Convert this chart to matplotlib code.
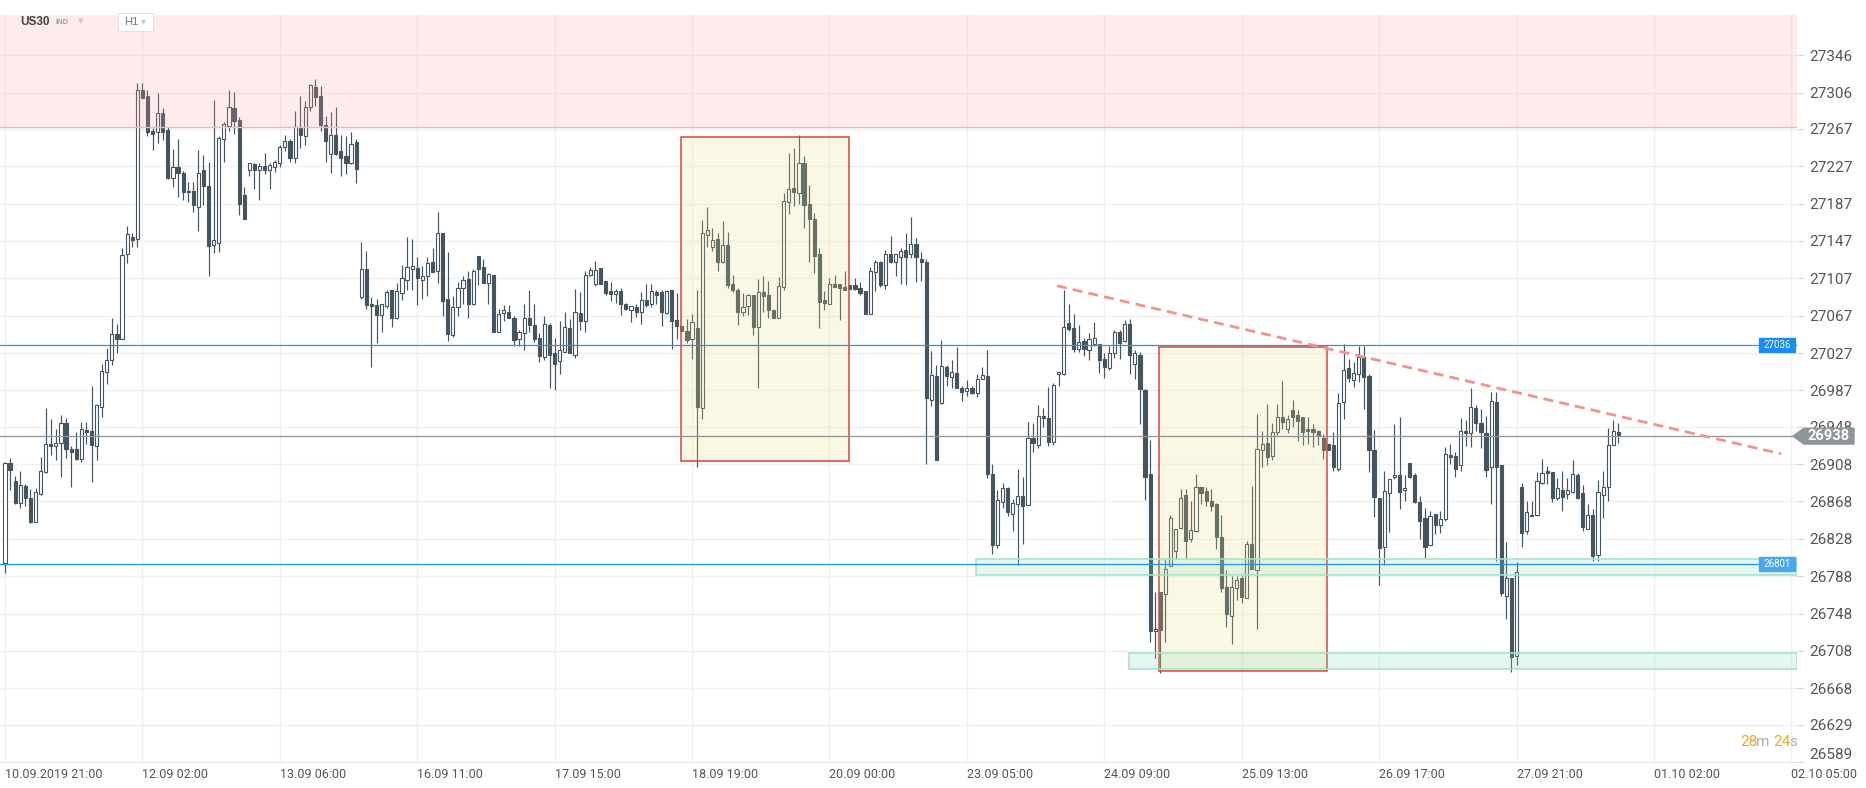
import matplotlib
matplotlib.use("Agg")
import matplotlib.pyplot as plt
from matplotlib import font_manager
from matplotlib.patches import Rectangle, Polygon
from matplotlib.transforms import blended_transform_factory
import numpy as np

plt.rcParams['font.family'] = ['Roboto', 'DejaVu Sans']

# US30 hourly candles, from 10.09.2019 21:00
opens = [26802, 26909, 26890, 26866, 26885, 26872, 26846, 26876, 26900, 26930,
         26927, 26931, 26952, 26924, 26924, 26914, 26945, 26943, 26927, 26969,
         27007, 27019, 27047, 27042, 27133, 27151, 27149, 27309, 27302, 27265,
         27264, 27284, 27266, 27214, 27226, 27220, 27199, 27201, 27183, 27223,
         27206, 27143, 27145, 27256, 27270, 27289, 27277, 27196, 27223, 27229,
         27223, 27227, 27223, 27226, 27231, 27248, 27254, 27236, 27269, 27259,
         27290, 27312, 27302, 27271, 27240, 27261, 27243, 27238, 27230, 27253,
         27087, 27117, 27079, 27078, 27068, 27077, 27094, 27064, 27091, 27105,
         27117, 27118, 27105, 27109, 27124, 27115, 27155, 27085, 27046, 27076,
         27097, 27106, 27080, 27131, 27119, 27102, 27111, 27050, 27070, 27071,
         27065, 27042, 27048, 27064, 27057, 27043, 27023, 27057, 27027, 27018,
         27028, 27054, 27025, 27070, 27061, 27111, 27101, 27118, 27104, 27093,
         27090, 27093, 27079, 27073, 27076, 27071, 27084, 27079, 27092, 27092,
         27070, 27094, 27062, 27056, 27051, 27042, 27054, 26968, 27153, 27141,
         27149, 27125, 27143, 27101, 27095, 27071, 27077, 27089, 27055, 27092,
         27089, 27073, 27065, 27098, 27189, 27204, 27198, 27231, 27187, 27171,
         27133, 27084, 27079, 27101, 27101, 27098, 27100, 27100, 27097, 27093,
         27069, 27114, 27125, 27100, 27133, 27125, 27130, 27137, 27133, 27144,
         27128, 27125, 26977, 27002, 26973, 27012, 27001, 27006, 26989, 26986,
         26990, 26984, 26999, 27002, 26897, 26821, 26867, 26882, 26855, 26865,
         26874, 26864, 26936, 26929, 26960, 26957, 26932, 27004, 27004, 27059,
         27054, 27031, 27040, 27030, 27037, 27037, 27021, 27011, 27027, 27049,
         27040, 27058, 27015, 27025, 26987, 26897, 26729, 26771, 26769, 26799,
         26815, 26840, 26875, 26828, 26836, 26883, 26879, 26868, 26865, 26830,
         26776, 26745, 26775, 26786, 26765, 26822, 26795, 26923, 26931, 26917,
         26942, 26958, 26946, 26966, 26961, 26958, 26946, 26946, 26943, 26936,
         26930, 26929, 26903, 26975, 27011, 26998, 27005, 27023, 27002, 26923,
         26872, 26819, 26877, 26894, 26896, 26880, 26909, 26896, 26867, 26850,
         26821, 26855, 26843, 26849, 26918, 26917, 26907, 26943, 26941, 26968,
         26952, 26941, 26905, 26975, 26907, 26767, 26786, 26702, 26883, 26836,
         26854, 26853, 26888, 26901, 26900, 26872, 26880, 26876, 26878, 26896,
         26877, 26839, 26854, 26811, 26875, 26884, 26929, 26942]
highs = [26910, 26915, 26895, 26901, 26887, 26881, 26882, 26916, 26968, 26956,
         26946, 26961, 26957, 26927, 26942, 26953, 26953, 26992, 26972, 27015,
         27032, 27064, 27058, 27140, 27163, 27156, 27316, 27316, 27309, 27268,
         27306, 27289, 27269, 27245, 27256, 27222, 27210, 27210, 27244, 27239,
         27232, 27298, 27259, 27274, 27309, 27307, 27280, 27205, 27231, 27230,
         27231, 27241, 27230, 27234, 27250, 27261, 27256, 27286, 27302, 27297,
         27315, 27320, 27313, 27281, 27285, 27291, 27261, 27259, 27264, 27256,
         27146, 27136, 27087, 27085, 27079, 27095, 27094, 27102, 27121, 27151,
         27149, 27130, 27120, 27130, 27140, 27178, 27155, 27135, 27088, 27103,
         27109, 27115, 27117, 27131, 27128, 27113, 27111, 27074, 27078, 27078,
         27067, 27052, 27079, 27094, 27079, 27048, 27067, 27059, 27043, 27061,
         27071, 27063, 27096, 27092, 27115, 27119, 27126, 27118, 27104, 27103,
         27096, 27097, 27081, 27077, 27079, 27092, 27101, 27101, 27095, 27095,
         27095, 27095, 27091, 27056, 27063, 27069, 27095, 27169, 27183, 27161,
         27156, 27168, 27157, 27111, 27097, 27091, 27090, 27089, 27106, 27109,
         27104, 27073, 27108, 27198, 27241, 27247, 27261, 27238, 27207, 27177,
         27140, 27093, 27107, 27111, 27101, 27115, 27100, 27107, 27103, 27093,
         27119, 27127, 27126, 27137, 27152, 27133, 27139, 27155, 27173, 27150,
         27135, 27128, 27029, 27014, 27041, 27014, 27020, 27033, 26992, 26998,
         26992, 27004, 27012, 27030, 26908, 26880, 26888, 26884, 26871, 26903,
         26894, 26953, 26952, 26971, 26968, 26991, 26995, 27007, 27094, 27079,
         27069, 27057, 27043, 27048, 27060, 27037, 27027, 27034, 27052, 27052,
         27062, 27063, 27030, 27028, 26988, 26934, 26771, 26771, 26808, 26853,
         26839, 26881, 26881, 26868, 26897, 26884, 26884, 26881, 26866, 26853,
         26795, 26788, 26788, 26788, 26826, 26885, 26962, 26944, 26972, 26952,
         26972, 26997, 26961, 26977, 26966, 26958, 26958, 26951, 26945, 26940,
         26930, 26942, 26984, 27037, 27021, 27017, 27034, 27034, 27005, 26945,
         26872, 26901, 26892, 26951, 26959, 26896, 26909, 26898, 26874, 26861,
         26858, 26855, 26858, 26926, 26930, 26921, 26957, 26955, 26989, 26971,
         26967, 26960, 26985, 26985, 26907, 26825, 26786, 26803, 26888, 26868,
         26868, 26900, 26914, 26906, 26900, 26893, 26901, 26893, 26912, 26899,
         26886, 26865, 26860, 26891, 26901, 26947, 26955, 26952]
lows = [26791, 26880, 26865, 26861, 26863, 26845, 26846, 26875, 26899, 26918,
        26912, 26894, 26915, 26883, 26912, 26910, 26930, 26889, 26912, 26959,
        26994, 27014, 27027, 27042, 27123, 27141, 27141, 27300, 27259, 27244,
        27252, 27255, 27213, 27205, 27194, 27191, 27189, 27178, 27158, 27185,
        27109, 27134, 27135, 27232, 27265, 27262, 27175, 27170, 27217, 27203,
        27191, 27219, 27203, 27221, 27226, 27243, 27232, 27231, 27247, 27250,
        27286, 27292, 27265, 27232, 27220, 27239, 27217, 27219, 27229, 27209,
        27085, 27074, 27012, 27038, 27049, 27075, 27055, 27063, 27084, 27094,
        27095, 27078, 27085, 27088, 27114, 27102, 27067, 27040, 27044, 27067,
        27079, 27065, 27078, 27100, 27102, 27080, 27050, 27050, 27061, 27064,
        27034, 27034, 27030, 27050, 27039, 27017, 27019, 26989, 26987, 27004,
        27028, 27027, 27022, 27052, 27049, 27109, 27099, 27101, 27089, 27083,
        27081, 27068, 27073, 27060, 27066, 27058, 27076, 27076, 27080, 27056,
        27069, 27031, 27042, 27051, 27038, 27021, 26905, 26956, 27141, 27136,
        27115, 27123, 27097, 27092, 27057, 27067, 27068, 27046, 26990, 27071,
        27065, 27064, 27065, 27095, 27176, 27184, 27187, 27161, 27124, 27113,
        27054, 27073, 27079, 27098, 27062, 27095, 27096, 27094, 27089, 27069,
        27069, 27093, 27098, 27096, 27123, 27110, 27101, 27100, 27129, 27103,
        27104, 26908, 26970, 26912, 26972, 26992, 26989, 26989, 26976, 26981,
        26983, 26980, 26999, 26893, 26812, 26818, 26861, 26852, 26836, 26800,
        26823, 26864, 26921, 26925, 26948, 26927, 26929, 26992, 27003, 27051,
        27028, 27028, 27024, 27019, 27035, 27006, 27000, 27009, 27022, 27021,
        27039, 27005, 26999, 26951, 26870, 26717, 26700, 26684, 26718, 26799,
        26806, 26838, 26806, 26825, 26835, 26865, 26863, 26858, 26817, 26771,
        26734, 26715, 26763, 26759, 26765, 26796, 26731, 26905, 26907, 26912,
        26939, 26946, 26941, 26948, 26933, 26928, 26930, 26926, 26928, 26913,
        26923, 26901, 26901, 26956, 26996, 26991, 26996, 26967, 26900, 26851,
        26779, 26800, 26835, 26892, 26860, 26869, 26893, 26866, 26828, 26807,
        26821, 26833, 26834, 26847, 26908, 26894, 26901, 26927, 26926, 26944,
        26925, 26894, 26865, 26804, 26767, 26742, 26685, 26693, 26819, 26833,
        26852, 26852, 26887, 26887, 26867, 26870, 26858, 26871, 26877, 26871,
        26836, 26838, 26804, 26804, 26850, 26868, 26928, 26931]
closes = [26909, 26902, 26866, 26886, 26872, 26846, 26878, 26901, 26930, 26927,
          26931, 26952, 26924, 26921, 26914, 26946, 26942, 26928, 26971, 27008,
          27019, 27047, 27042, 27132, 27154, 27148, 27309, 27300, 27264, 27262,
          27284, 27264, 27214, 27226, 27220, 27199, 27201, 27185, 27220, 27206,
          27142, 27148, 27257, 27272, 27290, 27276, 27187, 27170, 27230, 27223,
          27227, 27223, 27228, 27232, 27248, 27254, 27236, 27269, 27260, 27290,
          27314, 27301, 27271, 27254, 27260, 27240, 27236, 27231, 27251, 27224,
          27117, 27078, 27077, 27068, 27079, 27092, 27064, 27093, 27107, 27119,
          27120, 27107, 27110, 27123, 27114, 27155, 27083, 27047, 27076, 27097,
          27105, 27079, 27115, 27117, 27102, 27112, 27050, 27069, 27073, 27064,
          27041, 27049, 27064, 27057, 27042, 27024, 27058, 27025, 27015, 27030,
          27055, 27027, 27071, 27061, 27111, 27116, 27116, 27101, 27091, 27090,
          27093, 27079, 27074, 27077, 27071, 27084, 27078, 27093, 27089, 27071,
          27093, 27061, 27056, 27051, 27041, 27060, 26969, 27155, 27159, 27148,
          27124, 27143, 27100, 27094, 27071, 27076, 27089, 27055, 27092, 27088,
          27073, 27064, 27099, 27190, 27203, 27199, 27231, 27186, 27170, 27131,
          27082, 27081, 27101, 27098, 27097, 27095, 27096, 27096, 27091, 27069,
          27115, 27125, 27100, 27133, 27124, 27133, 27136, 27130, 27144, 27130,
          27124, 26979, 27003, 26912, 27013, 27002, 27007, 26989, 26985, 26989,
          26984, 26999, 27003, 26897, 26821, 26870, 26882, 26857, 26866, 26874,
          26863, 26936, 26931, 26960, 26957, 26932, 26993, 27007, 27055, 27053,
          27031, 27039, 27031, 27042, 27043, 27019, 27012, 27027, 27049, 27038,
          27058, 27025, 27027, 26988, 26894, 26729, 26731, 26730, 26796, 26850,
          26839, 26872, 26826, 26837, 26883, 26877, 26869, 26863, 26830, 26775,
          26747, 26776, 26784, 26766, 26822, 26796, 26924, 26930, 26916, 26942,
          26958, 26953, 26956, 26959, 26954, 26942, 26943, 26942, 26938, 26923,
          26923, 26905, 26974, 27009, 27000, 27006, 27023, 27001, 26923, 26873,
          26818, 26879, 26892, 26896, 26878, 26882, 26894, 26867, 26847, 26819,
          26852, 26843, 26849, 26919, 26916, 26903, 26944, 26941, 26969, 26952,
          26942, 26902, 26976, 26905, 26770, 26786, 26701, 26792, 26834, 26857,
          26852, 26890, 26898, 26898, 26872, 26882, 26873, 26880, 26897, 26872,
          26841, 26854, 26810, 26878, 26883, 26929, 26943, 26939]

price_ticks = [27346, 27306, 27267, 27227, 27187, 27147, 27107, 27067, 27027, 26987,
               26948, 26908, 26868, 26828, 26788, 26748, 26708, 26668, 26629, 26589]
date_labels = ['10.09.2019  21:00', '12.09  02:00', '13.09  06:00', '16.09  11:00',
               '17.09  15:00', '18.09  19:00', '20.09  00:00', '23.09  05:00',
               '24.09  09:00', '25.09  13:00', '26.09  17:00', '27.09  21:00',
               '01.10  02:00', '02.10  05:00']
date_bars = [0, 27, 54, 81, 108, 135, 162, 189, 216, 243, 270, 297, 324, 351]

resistance_zone = (27269, 27389)
support_1 = 27036
support_2 = 26801
last_price = 26938

# narrow font for the date axis if one is installed
installed = {f.name for f in font_manager.fontManager.ttflist}
if 'Liberation Sans Narrow' in installed:
    date_font, date_size = 'Liberation Sans Narrow', 10.5
else:
    date_font, date_size = 'Roboto', 9
    date_labels = [d.replace('  ', ' ') for d in date_labels]

W, H = 1866, 788
fig = plt.figure(figsize=(W / 100, H / 100), dpi=100)
ax = fig.add_axes([0, 26 / H, 1797 / W, 747 / H])
x0, x1 = -0.98, 352.1
ax.set_xlim(x0, x1)
ax.set_ylim(26589, 27389)

dark = '#45555f'
xs = np.arange(len(opens))
o, h, l, c = (np.array(v, dtype=float) for v in (opens, highs, lows, closes))
up = c > o
ax.vlines(xs, l, h, color=dark, lw=0.85, zorder=3)
ax.bar(xs, np.maximum(np.abs(c - o), 0.8), 0.62, bottom=np.minimum(o, c),
       color=['white' if u else dark for u in up], edgecolor=dark, lw=0.8, zorder=4)

# zones and boxes
ax.axhspan(*resistance_zone, facecolor=(0.98, 0.63, 0.63, 0.2), lw=0, zorder=5)
ax.axhline(resistance_zone[0], color='#f7b7b7', lw=1, zorder=5)
for (a, b, y0, y1) in [(132.9, 165.9, 26911, 27258), (226.8, 259.8, 26686, 27033)]:
    ax.add_patch(Rectangle((a, y0), b - a, y1 - y0, facecolor=(0.925, 0.87, 0.5, 0.21),
                           edgecolor='#d8463c', lw=1.1, zorder=5))
for (a, y0, y1) in [(190.8, 26789, 26806), (220.9, 26689, 26706)]:
    ax.add_patch(Rectangle((a, y0), x1 - a, y1 - y0, facecolor=(0.5, 0.86, 0.71, 0.2),
                           edgecolor='#a3e2c8', lw=1.1, zorder=5))

ax.axhline(support_1, color='#2196f3', lw=0.9, zorder=6)
ax.axhline(support_2, color='#2196f3', lw=0.9, zorder=6)
ax.axhline(last_price, color='#8f9599', lw=0.9, zorder=6)
ax.plot([206.7, 349.0], [27099, 26919], color='#f4938c', lw=2, dashes=(3.6, 2.2), zorder=7)

# grid / axes
ax.set_yticks(price_ticks)
ax.set_yticklabels([str(p) for p in price_ticks])
ax.set_xticks(date_bars)
ax.set_xticklabels(date_labels)
ax.grid(color='#f0f0f0', lw=1)
ax.set_axisbelow(True)
ax.yaxis.tick_right()
ax.tick_params(axis='y', length=4, width=0.8, color='#d6d6d6', pad=5,
               labelsize=11, labelcolor='#555555')
ax.tick_params(axis='x', length=0, pad=4, labelsize=date_size, labelcolor='#555555')
for lbl in ax.get_xticklabels():
    lbl.set_ha('left')
    lbl.set_fontfamily(date_font)
ax.get_yticklabels()[-1].set_va('bottom')
for s in ['top', 'left', 'right']:
    ax.spines[s].set_visible(False)
ax.spines['bottom'].set_color('#e6e6e6')

# price tags
tr = blended_transform_factory(ax.transAxes, ax.transData)
for val, col in [(support_1, '#1a8cf4'), (support_2, '#45a8f0')]:
    ax.add_patch(Rectangle((1759 / 1797, val - 7.5), 36 / 1797, 15, transform=tr,
                           color=col, zorder=8, clip_on=False))
    ax.text(1777 / 1797, val, str(val), transform=tr, color='white', fontsize=7,
            ha='center', va='center', zorder=9)
tf = blended_transform_factory(fig.transFigure, ax.transData)
ax.add_patch(Polygon([(1793 / W, last_price), (1804 / W, last_price + 8.5),
                      (1854 / W, last_price + 8.5), (1854 / W, last_price - 8.5),
                      (1804 / W, last_price - 8.5)], closed=True, transform=tf,
                     color='#8c969b', zorder=10, clip_on=False))
ax.text(1829 / W, last_price, str(last_price), transform=tf, color='white',
        fontsize=10.5, fontweight='bold', ha='center', va='center', zorder=11, clip_on=False)

# header
fig.text(20 / W, 1 - 22 / H, 'US30', fontsize=8.5, fontweight='bold', color='#444444',
         family=['Liberation Sans', 'DejaVu Sans'], va='center')
fig.text(56 / W, 1 - 22 / H, 'IND', fontsize=5.5, fontweight='bold', color='#a0a0a0',
         family=['Liberation Sans', 'DejaVu Sans'], va='center')
fig.text(78 / W, 1 - 21 / H, '\u25be', fontsize=8, color='#c8c8c8', va='center',
         family='DejaVu Sans')
fig.patches.append(Rectangle((118 / W, 1 - 31 / H), 35 / W, 18 / H, transform=fig.transFigure,
                             facecolor='white', edgecolor='#e2e2e2', lw=0.8, zorder=3))
fig.text(124 / W, 1 - 22 / H, 'H1', fontsize=8, color='#777777', va='center',
         family=['Liberation Sans', 'DejaVu Sans'], zorder=4)
fig.text(141 / W, 1 - 21 / H, '\u25be', fontsize=7, color='#c8c8c8', va='center',
         family='DejaVu Sans', zorder=4)

# countdown
for txt, xp, col in [('28', 1740, '#f5a623'), ('m', 1756, '#b0b0b0'),
                     ('24', 1773, '#f5a623'), ('s', 1789, '#b0b0b0')]:
    fig.text(xp / W, 1 - 742 / H, txt, fontsize=11, color=col, va='center')

fig.savefig('out.png', dpi=100)
